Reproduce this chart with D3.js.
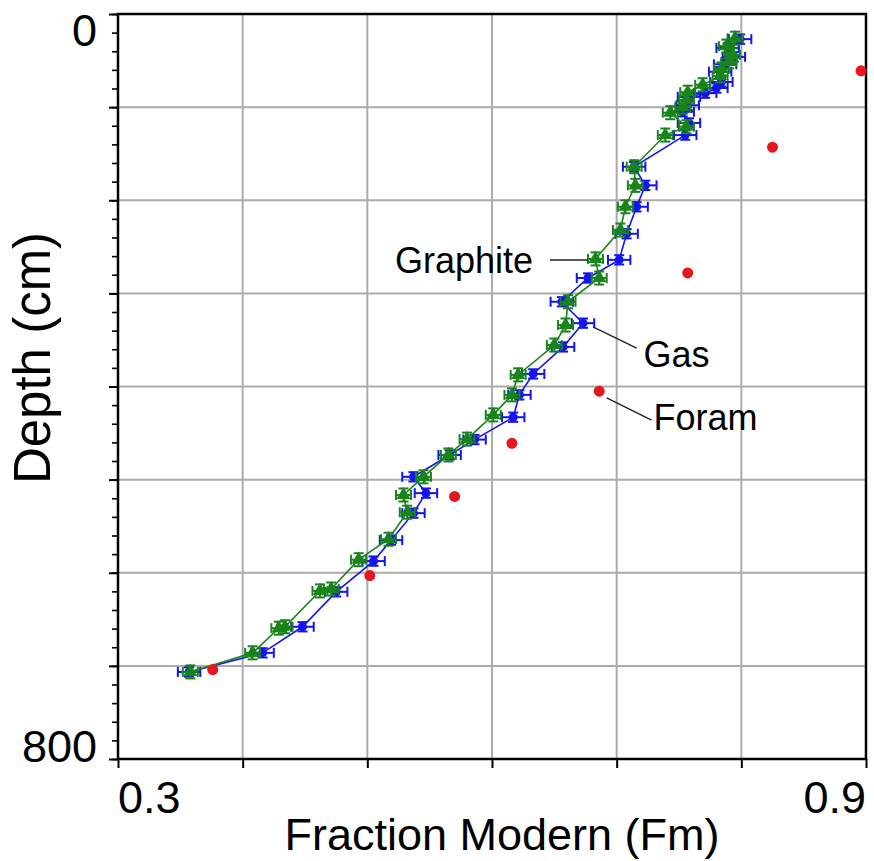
<!DOCTYPE html>
<html><head><meta charset="utf-8">
<script src="https://cdn.jsdelivr.net/npm/d3@7"></script>
<style>body{margin:0;background:#fff}svg{display:block}text{font-family:"Liberation Sans",Arial,Helvetica,sans-serif;fill:#000}</style>
</head><body><svg id="c" width="874" height="861"></svg>
<script>
// Gas (blue)
const gasFm = [0.799,0.789,0.794,0.787,0.783,0.784,0.780,0.771,0.758,0.757,0.753,0.758,0.755,0.714,0.723,0.716,0.708,0.702,0.677,0.656,0.673,0.657,0.633,0.622,0.617,0.586,0.566,0.537,0.547,0.537,0.519,0.505,0.475,0.448,0.416,0.357];
const gasDepth = [27,36.5,46,54,62,73,79.5,85,89,98,105,117,130,164,184,207,236,264,283.5,309,332,357.5,386.5,409,433,457,473.5,497,514.5,536,565,587.5,620.5,658,686,706.5];
// Graphite (green)
const graphiteFm = [0.795,0.788,0.793,0.790,0.784,0.783,0.769,0.757,0.756,0.753,0.743,0.756,0.739,0.714,0.715,0.707,0.703,0.683,0.686,0.661,0.659,0.650,0.621,0.616,0.601,0.580,0.565,0.545,0.529,0.532,0.517,0.493,0.471,0.462,0.434,0.429,0.408,0.358];
const graphiteDepth = [26,34.5,44,51.5,59,66.5,76,84,92,100,106,121,130,164,184,207,232,263,283.5,309,334,355.5,387.5,409,430.5,456.5,473.5,497,516.5,535,564,586,617.5,619.5,658,659.5,686,706.5];
// Foram (red)
const foramFm = [0.896,0.825,0.757,0.686,0.616,0.570,0.502,0.376];
const foramDepth = [61,143,278,405,461,518,603,704];
// Error sizes
const gasFmErr = 0.009, gasDepthErr = 5;
const graphiteFmErr = 0.006, graphiteDepthErr = 7;
// Ticks
const xTicks = [0.3,0.4,0.5,0.6,0.7,0.8,0.9];
const xTickLabels = ["0.3","","","","","","0.9"];
const yTicks = [0,100,200,300,400,500,600,700,800];
const yTickLabels = ["0","","","","","","","","800"];
const yMinorTicks = d3.range(0,801,20);
// Annotations: [label, labelFm, labelDepth, anchor, lineFm1, lineDepth1, lineFm2, lineDepth2]
const annotations = [
  ["Graphite",0.6330,278.0,"end",0.6465,264.2,0.6770,264.2],
  ["Gas",0.7215,379.0,"start",0.6810,336.1,0.7160,358.7],
  ["Foram",0.7295,446.5,"start",0.6920,412.3,0.7280,436.0]
];

const svg = d3.select("#c");
const L=118,R=866,T=14,B=759;
const x = d3.scaleLinear().domain([0.3,0.9]).range([L,R]);
const y = d3.scaleLinear().domain([0,800]).range([T,B]);

// grid
const g = svg.append("g");
g.selectAll(".vg").data(xTicks.slice(1,-1)).join("line")
 .attr("x1",d=>x(d)).attr("x2",d=>x(d)).attr("y1",T).attr("y2",B)
 .attr("stroke","#ababab").attr("stroke-width",2);
g.selectAll(".hg").data(yTicks.slice(1,-1)).join("line")
 .attr("y1",d=>y(d)).attr("y2",d=>y(d)).attr("x1",L).attr("x2",R)
 .attr("stroke","#ababab").attr("stroke-width",2);

// axes
const yAxis = d3.axisLeft(y).tickValues(yMinorTicks).tickSize(6).tickFormat("");
svg.append("g").attr("transform",`translate(${L},0)`).call(yAxis)
 .call(s=>{s.select(".domain").remove();s.selectAll("line").attr("stroke","#000").attr("stroke-width",1.6);});
const yAxisMaj = d3.axisLeft(y).tickValues(yTicks).tickSize(9).tickFormat("");
svg.append("g").attr("transform",`translate(${L},0)`).call(yAxisMaj)
 .call(s=>{s.select(".domain").remove();s.selectAll("line").attr("stroke","#000").attr("stroke-width",2);});
const xAxis = d3.axisBottom(x).tickValues(xTicks).tickSize(9).tickFormat("");
svg.append("g").attr("transform",`translate(0,${B})`).call(xAxis)
 .call(s=>{s.select(".domain").remove();s.selectAll("line").attr("stroke","#000").attr("stroke-width",2);});
svg.append("rect").attr("x",L).attr("y",T).attr("width",R-L).attr("height",B-T)
 .attr("fill","none").attr("stroke","#000").attr("stroke-width",2.5);

// tick labels
svg.selectAll(".yl").data(yTicks.map((d,i)=>[d,yTickLabels[i]]).filter(d=>d[1])).join("text")
 .attr("x",L-21).attr("y",(d,i)=>i===0? y(d[0])+32 : y(d[0])+3)
 .attr("text-anchor","end").attr("font-size",45).text(d=>d[1]);
svg.selectAll(".xl").data(xTicks.map((d,i)=>[d,xTickLabels[i]]).filter(d=>d[1])).join("text")
 .attr("x",d=>x(d[0])).attr("y",B+54)
 .attr("text-anchor",(d,i)=>i===0?"start":"end").attr("font-size",45).text(d=>d[1]);

// titles
svg.append("text").attr("x",502).attr("y",850).attr("text-anchor","middle").attr("font-size",45).text("Fraction Modern (Fm)");
svg.append("text").attr("transform","translate(50,358) rotate(-90)").attr("text-anchor","middle").attr("font-size",51).text("Depth (cm)");

// series helper
function series(fm, dep, fmErr, dErr, color, marker, msize){
  const pts = fm.map((v,i)=>({f:v,d:dep[i]}));
  const s = svg.append("g");
  s.append("path").datum(pts).attr("fill","none").attr("stroke",color).attr("stroke-width",1.6)
   .attr("d",d3.line().x(p=>x(p.f)).y(p=>y(p.d)));
  const cap=5;
  const eb = s.selectAll(".e").data(pts).join("g").attr("stroke",color).attr("stroke-width",2);
  eb.append("line").attr("x1",p=>x(p.f-fmErr)).attr("x2",p=>x(p.f+fmErr)).attr("y1",p=>y(p.d)).attr("y2",p=>y(p.d));
  eb.append("line").attr("x1",p=>x(p.f-fmErr)).attr("x2",p=>x(p.f-fmErr)).attr("y1",p=>y(p.d)-cap).attr("y2",p=>y(p.d)+cap);
  eb.append("line").attr("x1",p=>x(p.f+fmErr)).attr("x2",p=>x(p.f+fmErr)).attr("y1",p=>y(p.d)-cap).attr("y2",p=>y(p.d)+cap);
  eb.append("line").attr("x1",p=>x(p.f)).attr("x2",p=>x(p.f)).attr("y1",p=>y(p.d-dErr)).attr("y2",p=>y(p.d+dErr));
  eb.append("line").attr("x1",p=>x(p.f)-cap).attr("x2",p=>x(p.f)+cap).attr("y1",p=>y(p.d-dErr)).attr("y2",p=>y(p.d-dErr));
  eb.append("line").attr("x1",p=>x(p.f)-cap).attr("x2",p=>x(p.f)+cap).attr("y1",p=>y(p.d+dErr)).attr("y2",p=>y(p.d+dErr));
  s.selectAll(".m").data(pts).join("path").attr("fill",color)
   .attr("transform",p=>`translate(${x(p.f)},${y(p.d)})`)
   .attr("d",d3.symbol().type(marker).size(msize));
}
series(gasFm,gasDepth,gasFmErr,gasDepthErr,"#1414f0",d3.symbolCircle,64);
series(graphiteFm,graphiteDepth,graphiteFmErr,graphiteDepthErr,"#18841a",d3.symbolTriangle,85);

svg.selectAll(".fo").data(foramFm.map((v,i)=>({f:v,d:foramDepth[i]}))).join("circle")
 .attr("cx",p=>x(p.f)).attr("cy",p=>y(p.d)).attr("r",5.5).attr("fill","#e8141e");

// annotations
annotations.forEach(a=>{
  svg.append("line").attr("x1",x(a[4])).attr("y1",y(a[5])).attr("x2",x(a[6])).attr("y2",y(a[7]))
   .attr("stroke","#222").attr("stroke-width",1.4);
  svg.append("text").attr("x",x(a[1])).attr("y",y(a[2])).attr("text-anchor",a[3]).attr("font-size",36).text(a[0]);
});
</script></body></html>
